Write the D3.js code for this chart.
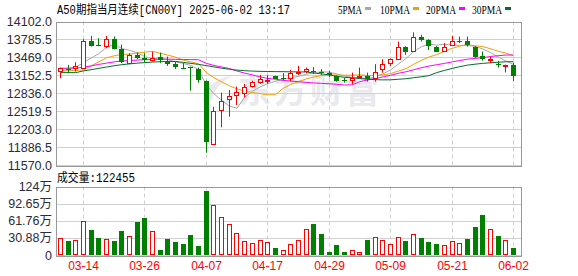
<!DOCTYPE html>
<html>
<head>
<meta charset="utf-8">
<script src="https://cdn.jsdelivr.net/npm/d3@7"></script>
<style>
  body { margin: 0; background: #fff; }
  svg { display: block; }
</style>
</head>
<body>
<div id="chart"></div>
<script>
let wSvg = 578; let hSvg = 276;
let left = 56, right = 522;
let priceTop = 21.5, priceBottom = 165;
let volTop = 186.5, volBottom = 255;

let upColor = "#ff0000";
let downColor = "#008000";
let gridColor = "#d0d0d0";
let frameColor = "#999999";

const title = "A50期指当月连续[CN00Y] 2025-06-02 13:17";
const volTitle = "成交量:122455";

const dates = ["03-11","03-12","03-13","03-14","03-17","03-18","03-19","03-20","03-21","03-24",
  "03-25","03-26","03-27","03-28","03-31","04-01","04-02","04-03","04-04","04-07",
  "04-08","04-09","04-10","04-11","04-14","04-15","04-16","04-17","04-18","04-21",
  "04-22","04-23","04-24","04-25","04-28","04-29","04-30","05-01","05-02","05-05",
  "05-06","05-07","05-08","05-09","05-12","05-13","05-14","05-15","05-16","05-19",
  "05-20","05-21","05-22","05-23","05-26","05-27","05-28","05-29","05-30","06-02"];
const tickDates = ["03-14","03-26","04-07","04-17","04-29","05-09","05-21","06-02"];

const opens = [13218,13260,13278,13278,13761,13680,13672,13791,13614,13377,
  13519,13466,13425,13472,13413,13349,13285,13295,13260,13054,
  11934,12541,12730,12806,12847,12965,13041,13065,13142,13110,
  13112,13195,13218,13225,13205,13190,13142,13075,13059,13138,
  13142,13112,13260,13367,13455,13655,13572,13831,13778,13660,
  13584,13681,13760,13760,13655,13495,13425,13360,13335,13336];
const highs = [13289,13336,13384,13791,13849,13808,13849,13837,13695,13543,
  13554,13543,13572,13554,13483,13395,13367,13306,13289,13060,
  12599,12847,12894,12953,13001,13059,13160,13160,13145,13190,
  13248,13319,13289,13296,13260,13236,13150,13112,13200,13289,
  13200,13349,13437,13450,13748,13665,13911,13867,13790,13670,
  13720,13849,13837,13837,13665,13572,13483,13408,13342,13377];
const lows = [13101,13190,13218,13270,13660,13665,13632,13610,13370,13370,
  13437,13377,13395,13367,13319,13265,13260,12882,13023,11786,
  11925,12235,12422,12629,12765,12935,13001,13001,13085,13071,
  13053,13160,13190,13178,13160,13118,13040,13023,12995,13130,
  13041,13041,13200,13319,13437,13513,13565,13750,13600,13565,
  13572,13675,13720,13660,13460,13413,13367,13290,13204,13053];
const closes = [13278,13250,13319,13761,13672,13672,13791,13614,13377,13513,
  13466,13425,13466,13425,13354,13289,13278,13285,13071,11980,
  12523,12700,12788,12864,12953,13041,13089,13075,13089,13100,
  13200,13205,13260,13215,13198,13160,13054,13068,13101,13145,
  13083,13218,13354,13437,13660,13572,13826,13778,13678,13572,
  13649,13752,13748,13685,13472,13437,13435,13350,13340,13147];

const ma5 = [13265,13270,13300,13370,13456,13535,13643,13702,13625,13593,
  13552,13479,13449,13459,13427,13392,13362,13326,13255,12981,
  12827,12712,12612,12571,12766,12869,12947,13004,13049,13079,
  13111,13134,13171,13196,13216,13208,13177,13139,13116,13106,
  13090,13123,13180,13247,13350,13448,13570,13655,13703,13685,
  13701,13686,13680,13681,13661,13619,13555,13476,13407,13342];
const ma10 = [13233,13233,13239,13248,13319,13390,13460,13496,13522,13525,
  13544,13561,13576,13542,13510,13472,13421,13388,13357,13204,
  13110,13037,12969,12913,12873,12848,12829,12808,12810,12922,
  12990,13040,13088,13123,13147,13159,13156,13155,13156,13161,
  13149,13150,13160,13182,13228,13269,13346,13417,13475,13518,
  13574,13628,13667,13692,13673,13660,13621,13578,13544,13502];
const ma20 = [13278,13278,13278,13296,13319,13345,13367,13390,13404,13413,
  13421,13428,13434,13437,13437,13434,13432,13430,13427,13364,
  13327,13299,13273,13228,13192,13160,13125,13098,13084,13063,
  13050,13039,13028,13018,13010,13004,12993,12982,12983,13041,
  13069,13095,13124,13152,13188,13214,13251,13286,13316,13339,
  13362,13389,13413,13437,13451,13464,13484,13498,13510,13510];
const ma30 = [13200,13200,13200,13230,13252,13275,13298,13322,13340,13354,
  13367,13377,13386,13393,13395,13398,13381,13363,13345,13324,
  13301,13278,13260,13244,13234,13227,13222,13220,13218,13217,
  13214,13213,13211,13193,13177,13160,13135,13117,13108,13096,
  13083,13076,13072,13073,13083,13092,13110,13127,13147,13200,
  13238,13273,13305,13332,13349,13363,13374,13383,13392,13393];

// volume in 万
const volumes = [30.2,25.3,26.5,61.5,45.2,30.7,28.9,25.3,43.4,34.4,
  59.1,67.5,43.4,9.0,28.9,24.0,19.9,36.2,16.5,116.3,
  90.4,68.2,55.5,39.2,25.3,21.2,26.6,23.0,13.2,8.4,
  19.3,26.6,47.0,56.0,38.0,5.4,18.0,5.4,8.4,4.8,
  27.0,32.5,27.0,19.9,32.5,25.3,38.0,31.3,24.0,19.9,
  18.0,25.3,21.7,29.5,51.2,72.3,47.0,34.9,27.1,12.25];
const volSide = "RGRRGGRGGRGGRGGGGGGGRRRRRRRRGRRRRGGGGGRRGRRRRGRGGGRRRGGGRGRG";

const priceTicks = [11570,11886.5,12203,12519.5,12836,13152.5,13469,13785.5,14102];
const volTicks = [0,30.88,61.76,92.65,123.52];
const volTickLabels = ["0","30.88万","61.76万","92.65万","124万"];

const maNames = ["5PMA","10PMA","20PMA","30PMA"];
const maColors = ["#a8a8a8","#f0a000","#ff00ff","#006f2c"];
const maSeries = [ma5, ma10, ma20, ma30];

const candles = dates.map((d, i) => ({
  date: d, o: opens[i], h: highs[i], l: lows[i], c: closes[i], v: volumes[i], vUp: volSide[i] === "R"
}));

let svg = d3.select("#chart")
  .append("svg")
  .attr("width", wSvg)
  .attr("height", hSvg)
  .style("font-family", "'Liberation Sans', 'Noto Sans CJK SC', sans-serif");

const xScale = d3.scaleBand()
  .domain(dates)
  .range([56.5, 56.5 + 60 * 7.68])
  .paddingInner(0.4)
  .paddingOuter(0.2);
const cx = d => Math.floor(xScale(d) + xScale.bandwidth() / 2) + 0.5;

const yPrice = d3.scaleLinear().domain([11570, 14102]).range([priceBottom, priceTop]);
const yVol = d3.scaleLinear().domain([0, 123.52]).range([volBottom, volTop]);

// watermark
svg.append("text")
  .attr("x", 238).attr("y", 103)
  .attr("font-size", 33).attr("font-weight", "bold")
  .attr("fill", "#e9e9ee")
  .attr("letter-spacing", 3)
  .style("font-family", "'Noto Sans CJK SC'")
  .text("东方财富");
svg.append("path")
  .attr("d", "M203,100 Q210,78 232,76 Q214,86 212,100 Z M218,104 Q236,98 236,82 Q240,100 222,106 Z")
  .attr("fill", "#e9e9ee");

// price grid
svg.append("g").selectAll("line")
  .data(priceTicks)
  .join("line")
  .attr("x1", left).attr("x2", right)
  .attr("y1", d => Math.round(yPrice(d)) + 0.5)
  .attr("y2", d => Math.round(yPrice(d)) + 0.5)
  .attr("stroke", gridColor);

svg.append("g").selectAll("line")
  .data(volTicks)
  .join("line")
  .attr("x1", left).attr("x2", right)
  .attr("y1", d => Math.round(yVol(d)) + 0.5)
  .attr("y2", d => Math.round(yVol(d)) + 0.5)
  .attr("stroke", gridColor);

// dashed date lines in both panels
const vGrid = svg.append("g").attr("stroke", gridColor).attr("stroke-dasharray", "4,3");
vGrid.selectAll("line.p").data(tickDates).join("line").attr("class", "p")
  .attr("x1", cx).attr("x2", cx)
  .attr("y1", priceTop).attr("y2", priceBottom);
vGrid.selectAll("line.v").data(tickDates).join("line").attr("class", "v")
  .attr("x1", cx).attr("x2", cx)
  .attr("y1", volTop).attr("y2", volBottom);

// frames
svg.append("rect")
  .attr("x", left + 0.5).attr("y", Math.round(priceTop) + 0.5)
  .attr("width", right - left - 1).attr("height", Math.round(priceBottom - priceTop))
  .attr("fill", "none").attr("stroke", frameColor);
svg.append("rect")
  .attr("x", left + 0.5).attr("y", Math.round(volTop) + 0.5)
  .attr("width", right - left - 1).attr("height", Math.round(volBottom - volTop))
  .attr("fill", "none").attr("stroke", frameColor);

// MA lines
const lineGen = d3.line()
  .x((d, i) => xScale(dates[i]) + xScale.bandwidth() / 2)
  .y(d => yPrice(d));
svg.append("g").selectAll("path")
  .data(maSeries)
  .join("path")
  .attr("fill", "none")
  .attr("stroke", (d, i) => maColors[i])
  .attr("stroke-width", 1)
  .attr("d", lineGen);

// candles
const cg = svg.append("g");
cg.selectAll("line")
  .data(candles)
  .join("line")
  .attr("x1", d => cx(d.date)).attr("x2", d => cx(d.date))
  .attr("y1", d => yPrice(d.h)).attr("y2", d => yPrice(d.l))
  .attr("stroke", d => d.c > d.o ? upColor : downColor);

cg.selectAll("rect")
  .data(candles)
  .join("rect")
  .attr("x", d => d.c > d.o ? cx(d.date) - 2 : cx(d.date) - 2.5)
  .attr("width", d => d.c > d.o ? 4 : 5)
  .attr("y", d => Math.round(yPrice(Math.max(d.o, d.c))) + (d.c > d.o ? 0.5 : 0))
  .attr("height", d => Math.max(1, Math.round(Math.abs(yPrice(d.o) - yPrice(d.c)))))
  .attr("fill", d => d.c > d.o ? "#fff" : downColor)
  .attr("stroke", d => d.c > d.o ? upColor : "none");

// volume bars
svg.append("g").selectAll("rect")
  .data(candles)
  .join("rect")
  .attr("x", d => d.vUp ? cx(d.date) - 2 : cx(d.date) - 2.5)
  .attr("width", d => d.vUp ? 4 : 5)
  .attr("y", d => Math.round(yVol(d.v)) + (d.vUp ? 0.5 : 0))
  .attr("height", d => Math.max(1, Math.round(volBottom - yVol(d.v)) - (d.vUp ? 1 : 0)))
  .attr("fill", d => d.vUp ? "#fff" : downColor)
  .attr("stroke", d => d.vUp ? upColor : "none");

// axis labels
svg.append("g").selectAll("text")
  .data(priceTicks)
  .join("text")
  .attr("x", 52).attr("y", d => yPrice(d) + 4.5)
  .attr("text-anchor", "end")
  .attr("font-size", 12.5)
  .attr("fill", "#2b2b3a")
  .text(d => d.toFixed(1));

svg.append("g").selectAll("text")
  .data(volTicks)
  .join("text")
  .attr("x", 52).attr("y", d => yVol(d) + 4.5)
  .attr("text-anchor", "end")
  .attr("font-size", 12.5)
  .attr("fill", "#2b2b3a")
  .text((d, i) => volTickLabels[i]);

svg.append("g").selectAll("text")
  .data(tickDates)
  .join("text")
  .attr("x", cx).attr("y", 269.5)
  .attr("text-anchor", "middle")
  .attr("font-size", 12)
  .attr("fill", "#ff0000")
  .text(d => d);

// titles
svg.append("text")
  .attr("x", 57).attr("y", 14)
  .attr("font-size", 12)
  .attr("textLength", 233).attr("lengthAdjust", "spacingAndGlyphs")
  .style("font-family", "'Liberation Mono', 'Noto Sans CJK SC'")
  .text(title);

svg.append("text")
  .attr("x", 57).attr("y", 182)
  .attr("font-size", 12)
  .attr("textLength", 78).attr("lengthAdjust", "spacingAndGlyphs")
  .style("font-family", "'Liberation Mono', 'Noto Sans CJK SC'")
  .text(volTitle);

// legend
const legendX = [338, 380, 426, 472];
const legendW = [24, 30, 30, 30];
const lg = svg.append("g");
lg.selectAll("text")
  .data(maNames)
  .join("text")
  .attr("x", (d, i) => legendX[i]).attr("y", 13.5)
  .attr("font-size", 12)
  .attr("textLength", (d, i) => legendW[i]).attr("lengthAdjust", "spacingAndGlyphs")
  .style("font-family", "'Liberation Serif'")
  .text(d => d);
lg.selectAll("rect")
  .data(maNames)
  .join("rect")
  .attr("x", (d, i) => legendX[i] + legendW[i] + 3)
  .attr("y", 7).attr("width", 6).attr("height", 3)
  .attr("fill", (d, i) => maColors[i]);
</script>
</body>
</html>
